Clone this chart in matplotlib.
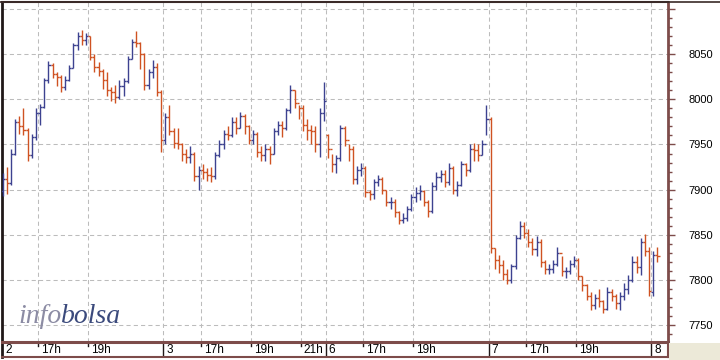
import matplotlib
matplotlib.use('Agg')
import matplotlib.pyplot as plt
from matplotlib.collections import LineCollection
from matplotlib.patches import Rectangle
from matplotlib.lines import Line2D
import numpy as np

# ---------------- data (10-minute OHLC bars, session 15:30-22:00) ----------------
days = ['2', '3', '6', '7', '8']
day_open = [7898, 7955, 7960, 7978, 7786]

close_d2 = [7912, 7907, 7940, 7975, 7970, 7966, 7938, 7958, 7985, 7992, 8021, 8038, 8028,
            8025, 8014, 8022, 8035, 8060, 8070, 8066, 8070, 8047, 8036, 8032, 8022, 8010,
            8008, 8003, 8015, 8020, 8045, 8064, 8062, 8050, 8016, 8030, 8036, 8008, 7955]
high_d2 = [7918, 7925, 7945, 7978, 7982, 7990, 7968, 7962, 7990, 7995, 8024, 8043, 8040,
           8030, 8027, 8026, 8038, 8063, 8075, 8077, 8074, 8070, 8050, 8042, 8034, 8030,
           8014, 8016, 8022, 8024, 8048, 8067, 8076, 8064, 8052, 8034, 8044, 8040, 8010]
low_d2 = [7893, 7895, 7905, 7938, 7962, 7960, 7932, 7935, 7955, 7972, 7990, 8018, 8024,
          8015, 8008, 8010, 8020, 8035, 8055, 8060, 8060, 8044, 8030, 8026, 8012, 8004,
          7998, 7996, 8000, 8004, 8018, 8045, 8058, 8034, 8010, 8012, 8024, 8004, 7942]

close_d3 = [7980, 7965, 7952, 7950, 7940, 7936, 7940, 7915, 7922, 7920, 7916, 7915, 7938,
            7950, 7962, 7960, 7975, 7968, 7982, 7970, 7955, 7962, 7942, 7938, 7945, 7940,
            7965, 7972, 7968, 7988, 8010, 7996, 7990, 7972, 7966, 7965, 7950, 7985, 7998]
high_d3 = [7985, 7994, 7968, 7968, 7952, 7945, 7948, 7942, 7926, 7928, 7924, 7925, 7942,
           7955, 7966, 7970, 7980, 7980, 7986, 7984, 7972, 7966, 7964, 7948, 7950, 7948,
           7968, 7976, 7976, 7990, 8016, 8010, 7994, 7994, 7978, 7972, 7970, 7990, 8019]
low_d3 = [7950, 7960, 7946, 7945, 7932, 7930, 7930, 7910, 7900, 7912, 7910, 7908, 7912,
          7936, 7945, 7955, 7958, 7962, 7968, 7962, 7950, 7950, 7936, 7932, 7932, 7928,
          7940, 7960, 7958, 7966, 7985, 7990, 7978, 7965, 7955, 7950, 7942, 7936, 7976]

close_d6 = [7945, 7928, 7935, 7968, 7955, 7945, 7912, 7922, 7924, 7897, 7895, 7908, 7912,
            7900, 7886, 7886, 7875, 7866, 7868, 7878, 7892, 7896, 7898, 7886, 7876, 7904,
            7914, 7917, 7908, 7924, 7900, 7905, 7928, 7922, 7945, 7944, 7938, 7950, 7978]
high_d6 = [7962, 7940, 7938, 7972, 7970, 7950, 7948, 7926, 7930, 7926, 7900, 7912, 7916,
           7914, 7900, 7892, 7890, 7876, 7874, 7882, 7895, 7903, 7905, 7900, 7888, 7908,
           7920, 7922, 7922, 7930, 7926, 7910, 7932, 7930, 7950, 7952, 7950, 7955, 7994]
low_d6 = [7935, 7920, 7918, 7932, 7948, 7932, 7906, 7906, 7915, 7892, 7888, 7890, 7904,
          7895, 7882, 7878, 7870, 7862, 7863, 7865, 7876, 7886, 7888, 7882, 7870, 7874,
          7900, 7908, 7903, 7905, 7895, 7893, 7904, 7915, 7920, 7932, 7932, 7938, 7960]

close_d7 = [7835, 7822, 7816, 7806, 7800, 7815, 7846, 7860, 7852, 7842, 7834, 7842, 7820,
            7812, 7812, 7818, 7830, 7810, 7810, 7818, 7822, 7804, 7794, 7782, 7772, 7780,
            7776, 7768, 7786, 7782, 7774, 7782, 7790, 7800, 7820, 7814, 7842, 7832, 7788]
high_d7 = [7980, 7835, 7828, 7822, 7812, 7818, 7850, 7865, 7864, 7856, 7846, 7848, 7845,
           7822, 7818, 7822, 7836, 7826, 7814, 7822, 7826, 7824, 7804, 7795, 7786, 7784,
           7790, 7778, 7792, 7790, 7784, 7786, 7796, 7805, 7826, 7826, 7846, 7851, 7836]
low_d7 = [7830, 7812, 7808, 7800, 7795, 7796, 7812, 7845, 7846, 7836, 7828, 7826, 7814,
          7806, 7806, 7808, 7815, 7804, 7802, 7806, 7814, 7800, 7788, 7778, 7766, 7768,
          7770, 7763, 7766, 7776, 7768, 7766, 7778, 7784, 7798, 7808, 7805, 7826, 7782]

close_d8 = [7828, 7826]
high_d8 = [7832, 7836]
low_d8 = [7782, 7820]

closes = [close_d2, close_d3, close_d6, close_d7, close_d8]
highs = [high_d2, high_d3, high_d6, high_d7, high_d8]
lows = [low_d2, low_d3, low_d6, low_d7, low_d8]

# x-axis labels (position in trading hours from first open)
tick_pos = [0, 1.5, 3.5, 6.5, 8, 10, 12, 13, 14.5, 16.5, 19.5, 21, 23, 26]
tick_txt = ['2', '17h', '19h', '3', '17h', '19h', '21h', '6', '17h', '19h', '7', '17h', '19h', '8']
day_bounds = [6.5, 13, 19.5, 26]
y_ticks = [7750, 7800, 7850, 7900, 7950, 8000, 8050, 8100]
y_labels = ['7750', '7800', '7850', '7900', '7950', '8000', '8050', '']

# ---------------- styling ----------------
UP = '#3d4290'
DOWN = '#cf5222'
FRAME = '#7d4c4a'
GRID = '#bcbcbc'
W, H = 720, 360

fig = plt.figure(figsize=(7.2, 3.6), dpi=100)
fig.patch.set_facecolor('white')

ax = fig.add_axes([2 / W, 18 / H, 666 / W, 340 / H])
ax.set_xlim(0.06, 26.67)
ax.set_ylim(7731, 8108)

# grid
for v in y_ticks:
    ax.axhline(v, color=GRID, lw=0.75, ls=(0, (4, 3)), zorder=0)
for p in tick_pos[1:]:
    ax.axvline(p, color=GRID, lw=0.75, ls=(0, (4, 3)), zorder=0)

# bars (open tick left, close tick right, joined into a continuous trace)
segs, cols = [], []
tw = 1.0 / 12.0
for d in range(len(days)):
    prev = day_open[d]
    for i, (c, h, l) in enumerate(zip(closes[d], highs[d], lows[d])):
        x = d * 6.5 + (i + 0.5) / 6.0
        col = UP if c >= prev else DOWN
        segs.append([(x, l), (x, h)])
        segs.append([(x - tw, prev), (x, prev)])
        segs.append([(x, c), (x + tw, c)])
        cols += [col] * 3
        prev = c
ax.add_collection(LineCollection(segs, colors=cols, linewidths=1.0, zorder=3))

# axes frame / ticks
ax.set_xticks([])
ax.yaxis.tick_right()
ax.set_yticks(y_ticks)
ax.set_yticklabels(y_labels)
ax.set_yticks(np.arange(7740, 8110, 10), minor=True)
ax.tick_params(axis='y', which='major', length=5, width=1, color=FRAME, pad=10,
               labelsize=8, labelcolor='black')
ax.tick_params(axis='y', which='minor', length=3, width=1, color=FRAME)
for lab in ax.get_yticklabels():
    lab.set_fontfamily('Liberation Sans')
ax.spines['left'].set_color('#201818')
ax.spines['left'].set_linewidth(2)
ax.spines['right'].set_color(FRAME)
ax.spines['right'].set_linewidth(2)
ax.spines['top'].set_color('#3a2a28')
ax.spines['top'].set_linewidth(1.5)
ax.spines['bottom'].set_visible(False)

# time strip
ax2 = fig.add_axes([2 / W, 3 / H, 666 / W, 15 / H], sharex=ax)
ax2.set_ylim(0, 1)
ax2.set_xticks([])
ax2.set_yticks([])
for s in ax2.spines.values():
    s.set_color(FRAME)
    s.set_linewidth(1.5)
ax2.spines['top'].set_linewidth(2.2)
ax2.spines['left'].set_color('#201818')
ax2.spines['left'].set_linewidth(2)
for p, t in zip(tick_pos, tick_txt):
    if p in day_bounds:
        ax2.axvline(p, color='#201818', lw=1)
    elif p > 0:
        ax2.plot([p, p], [0.72, 1.0], color='#201818', lw=1)
    ax2.annotate(t, xy=(max(p, 0.06), 0.45), xytext=(3, 0), textcoords='offset pixels',
                 ha='left', va='center', fontsize=8.5, family='Liberation Sans', color='black')

# top border across whole figure & corner patch
fig.add_artist(Line2D([0, 1], [1 - 1.5 / H, 1 - 1.5 / H], transform=fig.transFigure,
                      color='#3a2a28', lw=1.2))
fig.add_artist(Rectangle((669 / W, 0), 51 / W, 17 / H, transform=fig.transFigure,
                         facecolor='#ece9d8', edgecolor='none'))

# watermark
t1 = fig.text(18 / W, (H - 323) / H, 'info', family='Liberation Serif', style='italic',
              fontsize=20, color='#8c8ca4', va='baseline', ha='left', zorder=5)
fig.canvas.draw()
bb = t1.get_window_extent()
fig.text(bb.x1 / W, (H - 323) / H, 'bolsa', family='Liberation Serif', style='italic',
         fontsize=20, color='#3b4a7c', va='baseline', ha='left', zorder=5)

fig.savefig('out.png', dpi=100, facecolor='white')
